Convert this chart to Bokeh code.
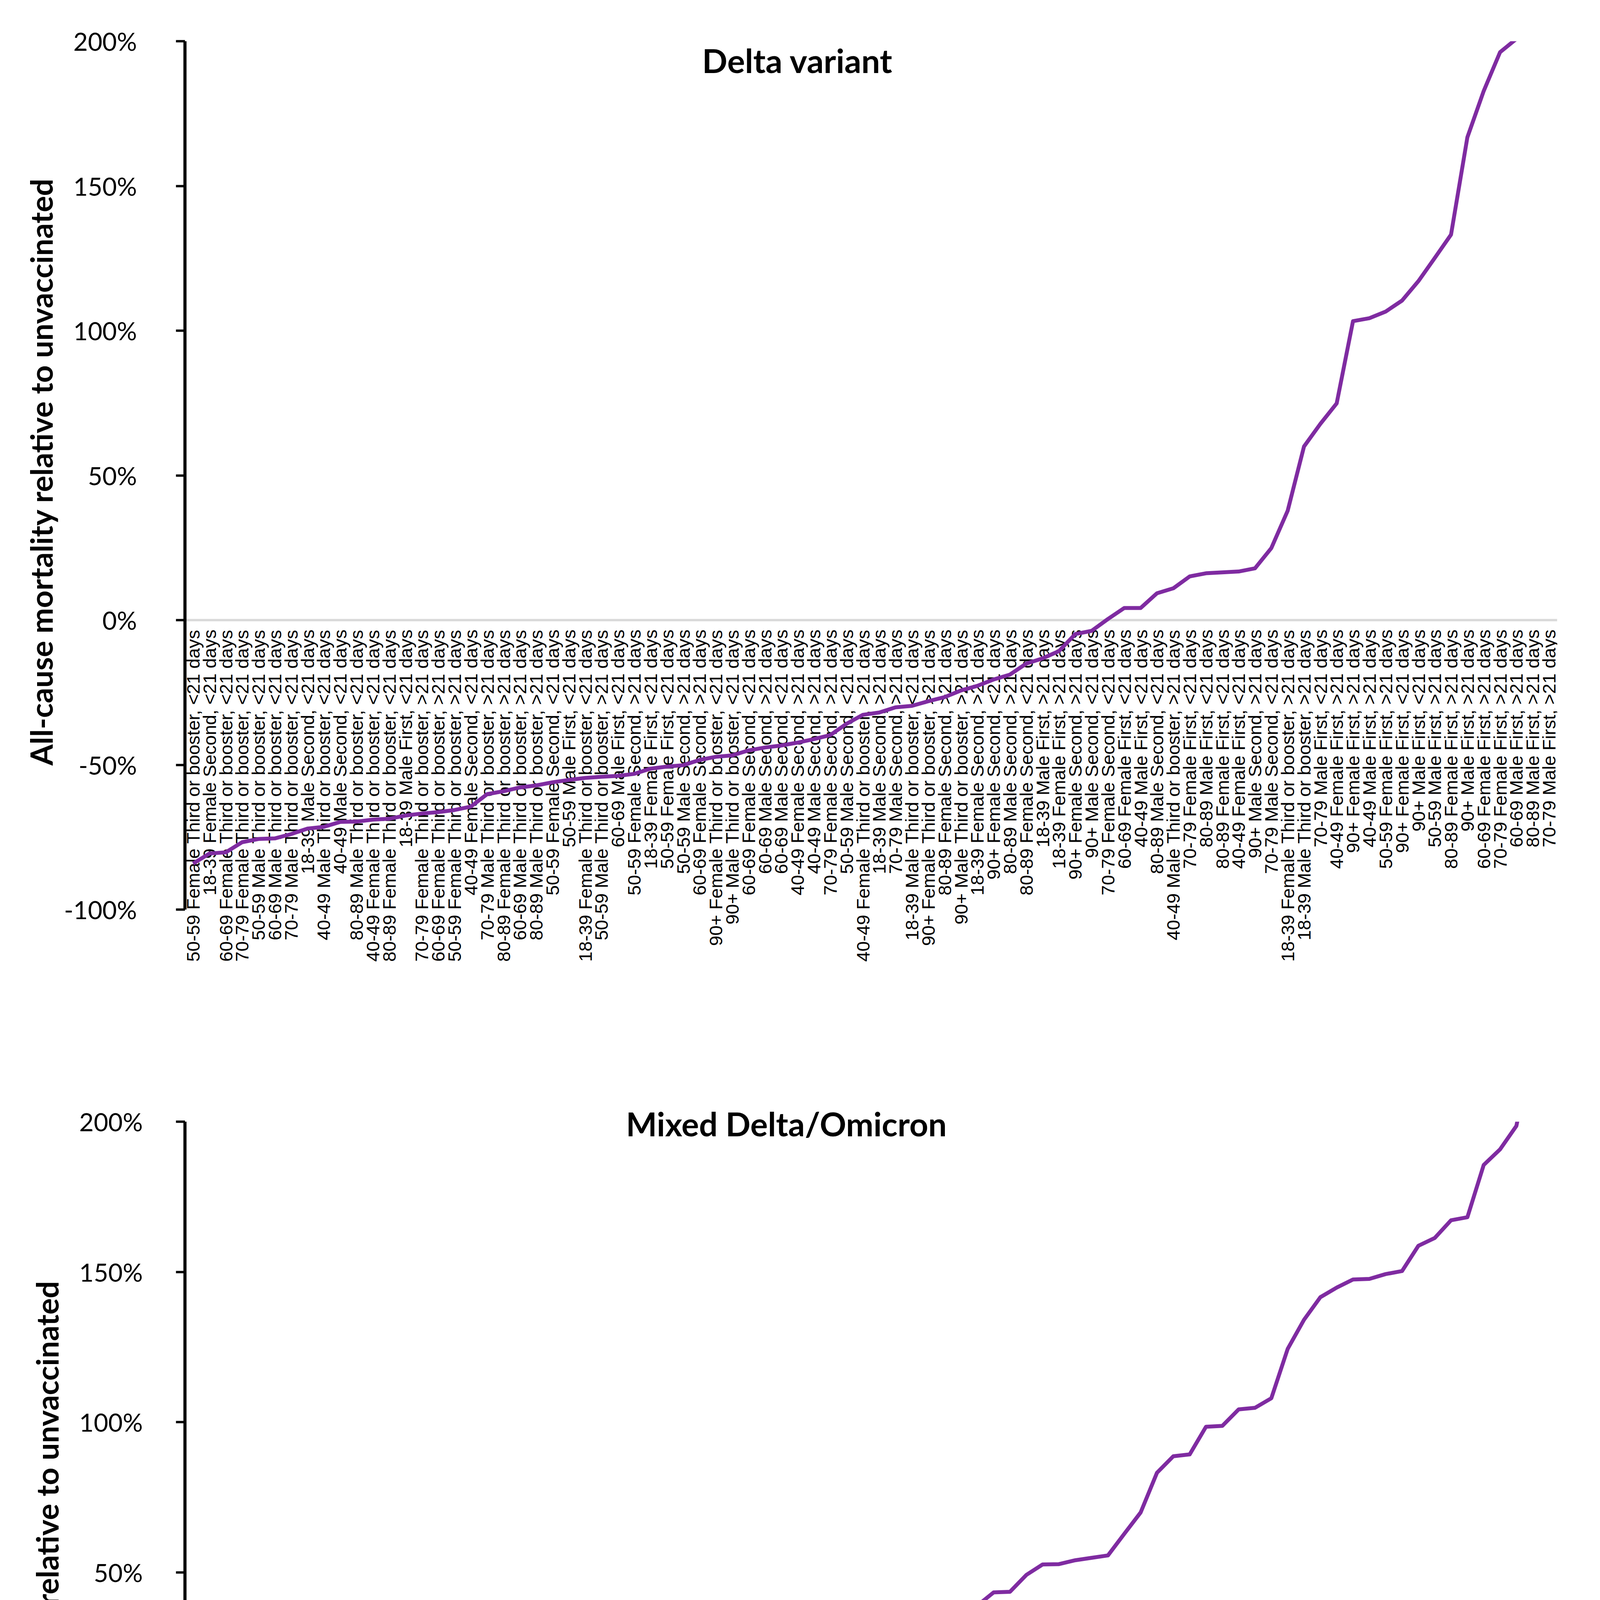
import math
from bokeh.plotting import figure
from bokeh.models import Range1d, FactorRange, FixedTicker, Label, Span, Title
from bokeh.layouts import column
from bokeh.embed import file_html
from bokeh.resources import INLINE
from bokeh.core.properties import value

# ---------------- data ----------------
delta_labels = [
    "50-59 Female Third or booster, <21 days", "18-39 Female Second, <21 days",
    "60-69 Female Third or booster, <21 days", "70-79 Female Third or booster, <21 days",
    "50-59 Male Third or booster, <21 days", "60-69 Male Third or booster, <21 days",
    "70-79 Male Third or booster, <21 days", "18-39 Male Second, <21 days",
    "40-49 Male Third or booster, <21 days", "40-49 Male Second, <21 days",
    "80-89 Male Third or booster, <21 days", "40-49 Female Third or booster, <21 days",
    "80-89 Female Third or booster, <21 days", "18-39 Male First, <21 days",
    "70-79 Female Third or booster, >21 days", "60-69 Female Third or booster, >21 days",
    "50-59 Female Third or booster, >21 days", "40-49 Female Second, <21 days",
    "70-79 Male Third or booster, >21 days", "80-89 Female Third or booster, >21 days",
    "60-69 Male Third or booster, >21 days", "80-89 Male Third or booster, >21 days",
    "50-59 Female Second, <21 days", "50-59 Male First, <21 days",
    "18-39 Female Third or booster, <21 days", "50-59 Male Third or booster, >21 days",
    "60-69 Male First, <21 days", "50-59 Female Second, >21 days",
    "18-39 Female First, <21 days", "50-59 Female First, <21 days",
    "50-59 Male Second, >21 days", "60-69 Female Second, >21 days",
    "90+ Female Third or booster, <21 days", "90+ Male Third or booster, <21 days",
    "60-69 Female Second, <21 days", "60-69 Male Second, >21 days",
    "60-69 Male Second, <21 days", "40-49 Female Second, >21 days",
    "40-49 Male Second, >21 days", "70-79 Female Second, >21 days",
    "50-59 Male Second, <21 days", "40-49 Female Third or booster, >21 days",
    "18-39 Male Second, >21 days", "70-79 Male Second, >21 days",
    "18-39 Male Third or booster, <21 days", "90+ Female Third or booster, >21 days",
    "80-89 Female Second, >21 days", "90+ Male Third or booster, >21 days",
    "18-39 Female Second, >21 days", "90+ Female Second, <21 days",
    "80-89 Male Second, >21 days", "80-89 Female Second, <21 days",
    "18-39 Male First, >21 days", "18-39 Female First, >21 days",
    "90+ Female Second, >21 days", "90+ Male Second, <21 days",
    "70-79 Female Second, <21 days", "60-69 Female First, <21 days",
    "40-49 Male First, <21 days", "80-89 Male Second, <21 days",
    "40-49 Male Third or booster, >21 days", "70-79 Female First, <21 days",
    "80-89 Male First, <21 days", "80-89 Female First, <21 days",
    "40-49 Female First, <21 days", "90+ Male Second, >21 days",
    "70-79 Male Second, <21 days", "18-39 Female Third or booster, >21 days",
    "18-39 Male Third or booster, >21 days", "70-79 Male First, <21 days",
    "40-49 Female First, >21 days", "90+ Female First, >21 days",
    "40-49 Male First, >21 days", "50-59 Female First, >21 days",
    "90+ Female First, <21 days", "90+ Male First, <21 days",
    "50-59 Male First, >21 days", "80-89 Female First, >21 days",
    "90+ Male First, >21 days", "60-69 Female First, >21 days",
    "70-79 Female First, >21 days", "60-69 Male First, >21 days",
    "80-89 Male First, >21 days", "70-79 Male First, >21 days",
]
delta_values = [
    -84.1, -80.6, -80.2, -76.7, -75.6, -75.4, -73.9, -72.0, -71.4, -69.7,
    -69.6, -68.9, -68.6, -67.5, -66.8, -66.3, -65.6, -64.4, -60.1, -59.1,
    -57.8, -57.1, -56.0, -55.2, -54.5, -54.1, -53.8, -53.1, -51.3, -50.6,
    -50.1, -48.3, -47.2, -46.7, -45.0, -44.0, -43.3, -42.3, -41.1, -39.7,
    -35.8, -32.7, -31.9, -30.1, -29.6, -28.0, -26.6, -24.3, -22.7, -20.5,
    -18.8, -15.0, -13.2, -10.7, -4.8, -3.7, 0.4, 4.2, 4.2, 9.3,
    11.0, 15.1, 16.2, 16.5, 16.8, 17.9, 24.9, 37.8, 60.0, 67.8,
    74.9, 103.3, 104.3, 106.6, 110.4, 117.1, 125.1, 133.2, 166.8, 182.8,
    196.2, 200.8, 215.0, 230.0,
]

mixed_labels = [
    "40-49 Female Third or booster, <21 days", "18-39 Female Third or booster, <21 days",
    "50-59 Female Third or booster, <21 days", "40-49 Male Third or booster, <21 days",
    "50-59 Male Third or booster, <21 days", "50-59 Female Third or booster, >21 days",
    "18-39 Male Third or booster, <21 days", "60-69 Female Third or booster, >21 days",
    "70-79 Female Third or booster, >21 days", "60-69 Male Third or booster, >21 days",
    "50-59 Male Third or booster, >21 days", "70-79 Male Third or booster, >21 days",
    "80-89 Female Third or booster, >21 days", "80-89 Male Third or booster, >21 days",
    "40-49 Male Third or booster, >21 days", "50-59 Female Second, <21 days",
    "60-69 Male Third or booster, <21 days", "40-49 Female Third or booster, >21 days",
    "60-69 Female Third or booster, <21 days", "90+ Female Third or booster, >21 days",
    "90+ Female Third or booster, <21 days", "18-39 Male Second, <21 days",
    "90+ Male Third or booster, >21 days", "90+ Male Second, <21 days",
    "18-39 Female Third or booster, >21 days", "80-89 Male Second, <21 days",
    "60-69 Male First, <21 days", "18-39 Male Second, >21 days",
    "50-59 Female First, <21 days", "18-39 Female Second, <21 days",
    "18-39 Male Third or booster, >21 days", "40-49 Male Second, <21 days",
    "50-59 Male First, <21 days", "18-39 Female First, >21 days",
    "70-79 Female Third or booster, <21 days", "60-69 Female First, <21 days",
    "18-39 Female Second, >21 days", "70-79 Female First, <21 days",
    "50-59 Male Second, <21 days", "40-49 Male Second, >21 days",
    "80-89 Female Third or booster, <21 days", "80-89 Female Second, <21 days",
    "40-49 Female Second, <21 days", "18-39 Male First, <21 days",
    "90+ Female Second, <21 days", "40-49 Female Second, >21 days",
    "70-79 Female Second, <21 days", "50-59 Female First, >21 days",
    "90+ Male Third or booster, <21 days", "60-69 Male Second, <21 days",
    "18-39 Male First, >21 days", "90+ Female First, >21 days",
    "18-39 Female First, <21 days", "80-89 Male Third or booster, <21 days",
    "70-79 Male Third or booster, <21 days", "50-59 Male Second, >21 days",
    "50-59 Female Second, >21 days", "70-79 Male Second, <21 days",
    "60-69 Female Second, <21 days", "90+ Female Second, >21 days",
    "90+ Male First, >21 days", "80-89 Female First, <21 days",
    "60-69 Male Second, >21 days", "40-49 Male First, <21 days",
    "80-89 Female First, >21 days", "60-69 Male First, >21 days",
    "40-49 Female First, <21 days", "80-89 Male First, >21 days",
    "70-79 Female First, >21 days", "40-49 Male First, >21 days",
    "60-69 Female Second, >21 days", "80-89 Female Second, >21 days",
    "60-69 Female First, >21 days", "80-89 Male First, <21 days",
    "40-49 Female First, >21 days", "50-59 Male First, >21 days",
    "70-79 Male First, >21 days", "90+ Female First, <21 days",
    "90+ Male Second, >21 days", "70-79 Female Second, >21 days",
    "80-89 Male Second, >21 days", "70-79 Male Second, >21 days",
    "70-79 Male First, <21 days", "90+ Male First, <21 days",
]
mixed_values = [
    -80.7, -65.0, -62.4, -62.2, -61.8, -58.7, -55.5, -54.7, -54.5, -54.1,
    -49.4, -48.4, -41.7, -39.4, -37.8, -35.4, -35.3, -33.6, -33.5, -30.2,
    -19.5, -17.7, -15.4, -12.6, -11.0, -9.8, -3.1, -1.8, -0.4, 5.0,
    6.3, 6.7, 12.0, 14.8, 16.3, 16.9, 19.1, 20.7, 22.3, 24.1,
    26.4, 29.9, 30.7, 31.5, 33.4, 33.8, 35.8, 37.3, 39.0, 43.4,
    43.6, 49.2, 52.7, 52.8, 54.1, 54.9, 55.7, 62.9, 70.0, 83.2,
    88.7, 89.3, 98.5, 98.8, 104.3, 104.8, 108.0, 124.4, 134.1, 141.6,
    144.8, 147.5, 147.7, 149.3, 150.3, 158.7, 161.3, 167.2, 168.2, 185.6,
    190.8, 198.6, 225.0, 240.0,
]

y_ticks = [-100, -50, 0, 50, 100, 150, 200]
y_tick_labels = ["-100%", "-50%", "0%", "50%", "100%", "150%", "200%"]
y_axis_title = "All-cause mortality relative to unvaccinated"
titles = ["Delta variant", "Mixed Delta/Omicron"]

PURPLE = "#7F2BA1"
LABEL_FONT = "Liberation Sans"
TEXT_FONT = "Lato"


def make_panel(labels, vals, zero_color, width, height, b_left, b_right,
               b_top, b_bottom, y_min, tick_standoff, label_offset, ytitle_offset):
    p = figure(width=width, height=height,
               x_range=FactorRange(factors=labels, range_padding=0),
               y_range=Range1d(y_min, 200),
               output_backend="svg", toolbar_location=None,
               min_border_left=b_left, min_border_right=b_right,
               min_border_top=b_top, min_border_bottom=b_bottom)
    p.background_fill_color = "white"
    p.border_fill_color = "white"
    p.outline_line_color = None
    p.xaxis.visible = False
    p.xgrid.visible = False
    p.ygrid.visible = False

    ya = p.yaxis[0]
    ya.ticker = FixedTicker(ticks=y_ticks)
    ya.major_label_overrides = {t: s for t, s in zip(y_ticks, y_tick_labels)}
    ya.bounds = (-100, 200)
    ya.axis_line_width = 8
    ya.axis_line_color = "black"
    ya.major_tick_line_width = 6
    ya.major_tick_line_color = "black"
    ya.major_tick_out = 23
    ya.major_tick_in = 0
    ya.minor_tick_line_color = None
    ya.major_label_text_font = TEXT_FONT
    ya.major_label_text_font_size = "64px"
    ya.major_label_text_color = "black"
    ya.major_label_standoff = tick_standoff

    # axis title, placed along the -100%..200% span
    p.add_layout(Title(text=y_axis_title, align="right", offset=ytitle_offset,
                       vertical_align="bottom", standoff=20,
                       text_font=TEXT_FONT, text_font_style="bold",
                       text_font_size="78px", text_color="black"), "left")

    # 0% line
    p.add_layout(Span(location=0, dimension="width", line_color=zero_color,
                      line_width=6, level="underlay"))

    # category labels hanging below the 0% line
    p.text(x=labels, y=[0] * len(labels), text=labels, angle=math.pi / 2,
           text_align="right", text_baseline="middle", y_offset=label_offset,
           text_font=value(LABEL_FONT), text_font_size="47px",
           text_color="black")

    p.line(labels, vals, line_color=PURPLE, line_width=10, line_join="round")
    return p


top = make_panel(delta_labels, delta_values, "#D9D9D9",
                 4097, 2592, 473, 55, 105, 86, -124, 100, 24, 350)
top.add_layout(Label(x=37.5, y=193.5, text=titles[0], text_align="center",
                     text_baseline="middle", text_font=TEXT_FONT,
                     text_font_style="bold", text_font_size="85px",
                     text_color="black"))

bottom = make_panel(mixed_labels, mixed_values, "black",
                    4097, 2806, 444, 111, 279, 80, -118, 85, 22, 406)
bottom.title.text = titles[1]
bottom.title.align = "left"
bottom.title.offset = 1129
bottom.title.vertical_align = "bottom"
try:
    bottom.title.standoff = -110
except Exception:
    bottom.title.standoff = 0
bottom.title.text_font = TEXT_FONT
bottom.title.text_font_style = "bold"
bottom.title.text_font_size = "84px"
bottom.title.text_color = "black"

layout = column(top, bottom)
open("out.html", "w").write(file_html(layout, INLINE))
